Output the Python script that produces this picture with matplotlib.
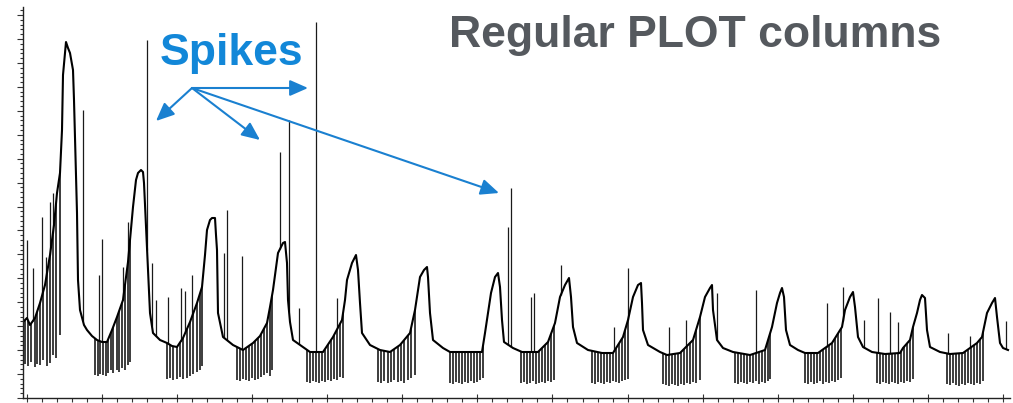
import numpy as np
import matplotlib
matplotlib.use("Agg")
import matplotlib.pyplot as plt

# Baseline trace (sample position, signal level)
trace_t = [23, 27, 30, 35, 40, 45, 50, 54, 57, 60, 62, 63, 66, 68, 70, 73, 74, 75, 77, 78,
           80, 84, 87, 92, 97, 102, 107, 112, 117, 123, 128, 133, 136, 138, 141, 143, 144, 146, 148, 150,
           153, 160, 167, 172, 177, 183, 190, 197, 202, 205, 207, 210, 212, 215, 216, 217, 218, 223, 233, 243,
           253, 260, 267, 270, 273, 276, 278, 283, 285, 287, 288, 290, 293, 303, 310, 323, 333, 342, 345, 347,
           352, 356, 358, 360, 362, 370, 380, 390, 400, 410, 415, 420, 424, 427, 428, 430, 433, 443, 450, 460,
           482, 485, 488, 491, 495, 498, 500, 502, 504, 513, 522, 538, 548, 555, 560, 565, 569, 571, 573, 577,
           588, 602, 613, 623, 628, 633, 638, 641, 642, 643, 648, 660, 667, 680, 693, 700, 705, 710, 712, 713,
           717, 723, 733, 750, 765, 768, 772, 777, 780, 782, 784, 786, 790, 798, 805, 818, 832, 842, 845, 850,
           853, 855, 858, 863, 872, 885, 900, 903, 910, 913, 917, 920, 922, 925, 927, 930, 940, 950, 963, 977,
           982, 987, 992, 995, 997, 1000, 1003, 1008]
trace_v = [78, 82, 75, 82, 97, 115, 145, 175, 207, 227, 270, 325, 358, 352, 347, 330, 300, 263, 187, 120,
           90, 75, 70, 64, 60, 58, 58, 70, 83, 100, 138, 193, 220, 227, 230, 228, 217, 173, 127, 87,
           67, 60, 57, 54, 53, 62, 78, 97, 113, 145, 170, 180, 182, 182, 165, 150, 87, 63, 55, 50,
           57, 64, 77, 93, 110, 132, 147, 157, 158, 137, 100, 78, 60, 53, 48, 48, 63, 80, 100, 120,
           137, 145, 130, 97, 67, 55, 50, 48, 55, 67, 90, 123, 130, 133, 123, 87, 60, 52, 48, 48,
           48, 67, 87, 107, 123, 127, 113, 80, 58, 52, 48, 48, 58, 77, 103, 115, 122, 103, 73, 57,
           50, 47, 47, 63, 80, 103, 115, 117, 97, 70, 55, 48, 45, 47, 60, 83, 103, 112, 115, 90,
           60, 52, 48, 45, 50, 60, 73, 97, 107, 112, 103, 70, 55, 50, 47, 47, 57, 73, 90, 103,
           108, 93, 63, 53, 48, 46, 47, 52, 60, 73, 87, 100, 105, 102, 70, 53, 48, 46, 47, 57,
           63, 87, 97, 102, 83, 57, 52, 50]

# Upward spikes: position and peak level
spike_t = [27, 33, 42, 46, 50, 53, 83, 99, 102, 123, 128, 147, 152, 156, 168, 181, 185, 192,
           224, 227, 242, 280, 289, 299, 316, 337, 508, 511, 531, 534, 561, 614, 628, 669, 686,
           717, 756, 827, 843, 864, 878, 890, 898, 948, 970, 1006]
spike_top = [160, 132, 183, 143, 198, 207, 290, 125, 161, 133, 178, 360, 137, 100, 103, 112, 109, 125,
             147, 190, 144, 248, 280, 92, 378, 102, 173, 212, 103, 107, 135, 73, 132, 73, 80,
             107, 110, 97, 113, 80, 102, 88, 78, 67, 64, 79]

# Downward dropouts: position and lowest level
dip_t = [25, 28, 31, 35, 37, 40, 43, 47, 50, 53, 56, 60,
         95, 98, 100, 103, 106, 108, 111, 113, 117, 119, 122, 125, 128, 130,
         167, 170, 173, 177, 180, 183, 187, 190, 193, 197, 200, 202,
         237, 240, 243, 246, 249, 252, 255, 258, 261, 264, 267, 270, 272,
         307, 310, 313, 316, 319, 322, 325, 328, 331, 334, 337, 340, 343,
         378, 381, 384, 388, 391, 394, 398, 401, 404, 408, 411, 415,
         450, 453, 456, 459, 462, 465, 468, 471, 474, 477, 480, 483,
         521, 524, 527, 530, 533, 536, 539, 542, 545, 548, 551, 554,
         592, 595, 598, 601, 604, 607, 610, 613, 616, 619, 622, 625, 628,
         663, 666, 669, 672, 675, 678, 681, 684, 687, 690, 693, 696, 700,
         735, 738, 741, 744, 747, 750, 753, 756, 759, 762, 765, 768, 770,
         805, 808, 811, 814, 817, 820, 823, 826, 829, 832, 835, 838, 841,
         877, 880, 883, 886, 889, 892, 895, 898, 901, 904, 907, 910, 913,
         947, 950, 953, 956, 959, 962, 965, 968, 971, 974, 977, 980, 983]
dip_floor = [36, 34, 38, 33, 36, 35, 40, 34, 37, 45, 42, 65,
             25, 24, 26, 25, 24, 27, 30, 27, 30, 28, 32, 30, 35, 38,
             21, 22, 20, 21, 23, 21, 22, 24, 26, 28, 30, 34,
             20, 19, 21, 20, 19, 22, 20, 21, 23, 25, 27, 24, 30,
             18, 17, 19, 18, 17, 19, 18, 20, 19, 21, 20, 23, 22,
             18, 17, 19, 17, 18, 20, 18, 19, 17, 20, 22, 25,
             17, 16, 18, 17, 16, 18, 17, 19, 17, 18, 20, 22,
             17, 18, 16, 17, 19, 16, 17, 18, 17, 19, 18, 20,
             17, 16, 18, 17, 16, 18, 17, 19, 18, 17, 19, 20, 21,
             16, 15, 14, 16, 15, 14, 16, 15, 17, 16, 18, 17, 20,
             17, 16, 18, 17, 16, 18, 17, 19, 16, 18, 17, 19, 21,
             17, 16, 18, 16, 17, 19, 16, 18, 17, 19, 18, 20, 22,
             17, 16, 18, 17, 16, 18, 17, 16, 18, 17, 19, 18, 21,
             16, 15, 17, 15, 14, 16, 15, 17, 16, 15, 17, 16, 19]

# Callout: label anchor and the spikes it points to
callout_origin = (192, 312)
callout_targets = [(156, 279), (308, 312), (260, 260), (499, 207)]

fig = plt.figure(figsize=(10.13, 4.03), dpi=100)
ax = fig.add_axes([23 / 1013, 5 / 403, 987 / 1013, 391 / 403])
ax.set_xlim(23, 1010)
ax.set_ylim(2, 393)

trace_t_arr = np.asarray(trace_t, float)
trace_v_arr = np.asarray(trace_v, float)

# spikes hang off the trace
spike_base = np.interp(spike_t, trace_t_arr, trace_v_arr)
dip_base = np.interp(dip_t, trace_t_arr, trace_v_arr)
ax.vlines(spike_t, spike_base, spike_top, color="#1a1a1a", lw=0.9)
ax.vlines(dip_t, dip_floor, dip_base, color="#111111", lw=1.15)
ax.plot(trace_t_arr, trace_v_arr, color="black", lw=1.5, solid_joinstyle="round")

# axes styling
for side in ("top", "right"):
    ax.spines[side].set_visible(False)
for side in ("left", "bottom"):
    ax.spines[side].set_color("#222222")
    ax.spines[side].set_linewidth(1.0)

ax.set_xticks(np.arange(102 - 75.08, 1011, 75.08))
ax.set_xticks(np.arange(102 - 5 * 15.016, 1011, 15.016), minor=True)
ax.set_yticks(np.arange(2, 394, 23.93))
ax.set_yticks(np.arange(2, 394, 23.93 / 5), minor=True)
ax.tick_params(labelbottom=False, labelleft=False)
ax.tick_params(axis="x", which="major", direction="inout", length=6, width=0.8, color="#333333")
ax.tick_params(axis="x", which="minor", direction="out", length=3, width=0.8, color="#333333")
ax.tick_params(axis="y", which="major", direction="out", length=4, width=0.8, color="#333333")
ax.tick_params(axis="y", which="minor", direction="out", length=2.5, width=0.8, color="#333333")

# titles
fig.text(695 / 1013, (403 - 47) / 403, "Regular PLOT columns", ha="center", va="baseline",
         fontsize=32, fontweight="bold", color="#55595e", family="Liberation Sans")
fig.text(160 / 1013, (403 - 65) / 403, "Spikes", ha="left", va="baseline",
         fontsize=32, fontweight="bold", color="#1287d8", family="Liberation Sans")

for tgt in callout_targets:
    ax.annotate("", xy=tgt, xytext=callout_origin, annotation_clip=False,
                arrowprops=dict(arrowstyle="-|>,head_length=0.5,head_width=0.22",
                                color="#1a80d0", lw=1.5, mutation_scale=22,
                                shrinkA=0, shrinkB=0))

fig.savefig("out.png", dpi=100)
